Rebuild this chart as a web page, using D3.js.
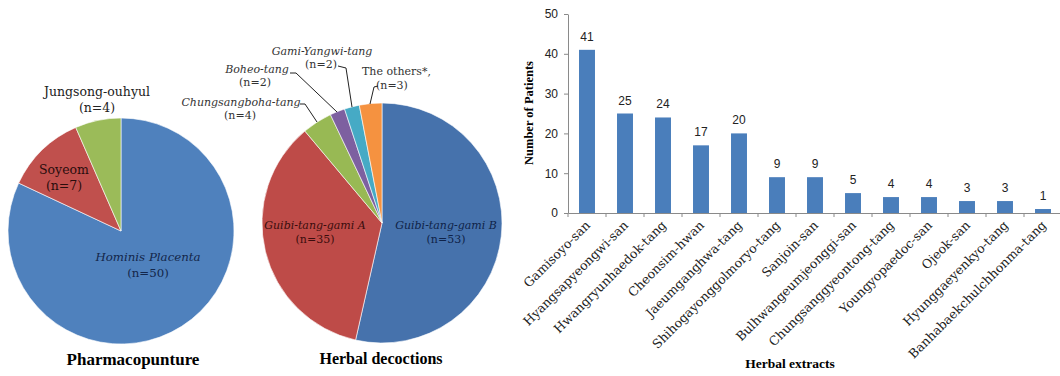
<!DOCTYPE html>
<html>
<head>
<meta charset="utf-8">
<script src="https://cdn.jsdelivr.net/npm/d3@7"></script>
<style>
  body { margin: 0; background: #fff; }
  svg { display: block; }
  .serif { font-family: "DejaVu Serif", serif; }
  .title { font-family: "Liberation Serif", serif; font-weight: bold; }
  .axis path, .axis line { stroke: #8a8a8a; }
  .axis text { font-family: "Liberation Sans", Arial, sans-serif; font-size: 12px; fill: #222; }
</style>
</head>
<body>
<svg id="chart" width="1060" height="376"></svg>
<script>
// Pharmacopunture pie
const pharmaNames  = ['Hominis Placenta', 'Soyeom', 'Jungsong-ouhyul'];
const pharmaCounts = [50, 7, 4];
const pharmaColours = ['#4F81BD', '#C0504D', '#9BBB59'];

// Herbal decoctions pie
const decoNames  = ['Guibi-tang-gami B', 'Guibi-tang-gami A', 'Chungsangboha-tang', 'Boheo-tang', 'Gami-Yangwi-tang', 'The others*,'];
const decoCounts = [53, 35, 4, 2, 2, 3];
const decoColours = ['#4672AC', '#BE4B48', '#98B954', '#7D60A0', '#46AAC5', '#F59240'];

// Herbal extracts bars
const extractNames = ['Gamisoyo-san', 'Hyangsapyeongwi-san', 'Hwangryunhaedok-tang', 'Cheonsim-hwan',
  'Jaeumganghwa-tang', 'Shihogayonggolmoryo-tang', 'Sanjoin-san', 'Bulhwangeumjeonggi-san',
  'Chungsanggyeontong-tang', 'Youngyopaedoc-san', 'Ojeok-san', 'Hyunggaeyenkyo-tang', 'Banhabaekchulchhonma-tang'];
const extractCounts = [41, 25, 24, 17, 20, 9, 9, 5, 4, 4, 3, 3, 1];
const yTicks = [0, 10, 20, 30, 40, 50];

const svg = d3.select('#chart');

function drawPie(cx, cy, r, counts, colours) {
    const pie = d3.pie().sort(null).value(d => d);
    const arc = d3.arc().innerRadius(0).outerRadius(r);
    const g = svg.append('g').attr('transform', `translate(${cx},${cy})`);
    g.selectAll('path').data(pie(counts)).join('path')
        .attr('d', arc)
        .attr('fill', (d, i) => colours[i])
        .attr('stroke', '#fff')
        .attr('stroke-width', 0.6);
    return {g, pie, arc};
}

// two-line label helper
function label(x, y, name, n, opts = {}) {
    const t = svg.append('text')
        .attr('class', 'serif')
        .attr('text-anchor', 'middle')
        .attr('font-size', opts.size || 12)
        .attr('fill', opts.fill || '#222');
    t.append('tspan').attr('x', x).attr('y', y)
        .attr('font-style', opts.italic ? 'italic' : null)
        .text(name);
    t.append('tspan').attr('x', x + (opts.nShift || 0)).attr('y', y + (opts.gap || 16)).text(`(n=${n})`);
}

// --- Left pie ---
drawPie(121, 231, 113, pharmaCounts, pharmaColours);
label(97, 96, pharmaNames[2], pharmaCounts[2], {size: 12.5});
label(64, 174, pharmaNames[1], pharmaCounts[1], {size: 12.5, fill: '#2a0d0d'});
label(148, 261, pharmaNames[0], pharmaCounts[0], {size: 11.8, italic: true, fill: '#13264a', nShift: 0});

svg.append('text').attr('class', 'title')
    .attr('x', 133).attr('y', 365)
    .attr('text-anchor', 'middle').attr('font-size', 17)
    .text('Pharmacopunture');

// --- Middle pie ---
drawPie(382, 223, 120, decoCounts, decoColours);
label(315, 229, decoNames[1], decoCounts[1], {size: 11, italic: true, fill: '#3a0d0d', gap: 14});
label(446, 229, decoNames[0], decoCounts[0], {size: 11, italic: true, fill: '#0f2348', gap: 14});

// outside labels with leader lines
const outside = [
    {name: decoNames[4], n: decoCounts[4], x: 322, y: 55, nx: 321, line: [[338, 66], [346, 68], [352, 107]]},
    {name: decoNames[3], n: decoCounts[3], x: 257, y: 73, nx: 255, line: [[290, 73], [296, 73], [337, 112]]},
    {name: decoNames[2], n: decoCounts[2], x: 241, y: 106, nx: 240, line: [[300, 104], [305, 104], [317, 122]]}
];
outside.forEach(o => {
    const t = svg.append('text').attr('class', 'serif').attr('font-size', 11).attr('fill', '#333');
    t.append('tspan').attr('x', o.x).attr('y', o.y).attr('text-anchor', 'middle')
        .attr('font-style', 'italic').text(o.name);
    t.append('tspan').attr('x', o.nx).attr('y', o.y + 13).attr('text-anchor', 'middle').text(`(n=${o.n})`);
    svg.append('path').attr('d', d3.line()(o.line))
        .attr('fill', 'none').attr('stroke', '#222').attr('stroke-width', 1);
});
const oth = svg.append('text').attr('class', 'serif').attr('font-size', 11).attr('fill', '#333');
oth.append('tspan').attr('x', 362).attr('y', 75).text(decoNames[5]);
oth.append('tspan').attr('x', 376).attr('y', 89).text(`(n=${decoCounts[5]})`);
svg.append('path').attr('d', d3.line()([[378, 86], [374, 87], [370, 104]]))
    .attr('fill', 'none').attr('stroke', '#222').attr('stroke-width', 1);

svg.append('text').attr('class', 'title')
    .attr('x', 381).attr('y', 364)
    .attr('text-anchor', 'middle').attr('font-size', 16)
    .text('Herbal decoctions');

// --- Bar chart ---
const margin = {left: 568, top: 14};
const innerW = 494, innerH = 199;
const chart = svg.append('g').attr('transform', `translate(${margin.left},${margin.top})`);

const xScale = d3.scaleBand().domain(extractNames).range([0, innerW]).paddingInner(0.58).paddingOuter(0.29);
const yScale = d3.scaleLinear().domain([0, 50]).range([innerH, 0]);

const yAxisG = chart.append('g').attr('class', 'axis')
    .call(d3.axisLeft(yScale).tickValues(yTicks).tickSize(4).tickSizeOuter(0).tickPadding(6));

const xAxisG = chart.append('g').attr('class', 'axis').attr('transform', `translate(0,${innerH})`)
    .call(d3.axisBottom(xScale).tickSize(0).tickFormat(''));
// ticks at band boundaries
const step = xScale.step();
xAxisG.selectAll('line.sep').data(d3.range(extractNames.length + 1)).join('line')
    .attr('class', 'sep')
    .attr('x1', i => i * step).attr('x2', i => i * step)
    .attr('y1', 0).attr('y2', 4);

chart.selectAll('rect.bar').data(extractCounts).join('rect')
    .attr('class', 'bar')
    .attr('x', (d, i) => xScale(extractNames[i]))
    .attr('width', xScale.bandwidth())
    .attr('y', d => yScale(d))
    .attr('height', d => innerH - yScale(d))
    .attr('fill', '#4A7EBB');

chart.selectAll('text.val').data(extractCounts).join('text')
    .attr('class', 'val')
    .attr('x', (d, i) => xScale(extractNames[i]) + xScale.bandwidth() / 2)
    .attr('y', d => yScale(d) - 9)
    .attr('text-anchor', 'middle')
    .attr('font-family', '"Liberation Sans", Arial, sans-serif')
    .attr('font-size', 12)
    .attr('fill', '#222')
    .text(d => d);

chart.selectAll('text.cat').data(extractNames).join('text')
    .attr('class', 'cat serif')
    .attr('text-anchor', 'end')
    .attr('font-size', 12.5)
    .attr('fill', '#222')
    .attr('transform', d => `translate(${xScale(d) + xScale.bandwidth() / 2 + 4},${innerH + 13}) rotate(-45)`)
    .text(d => d);

svg.append('text').attr('class', 'title')
    .attr('transform', `translate(533,113) rotate(-90)`)
    .attr('text-anchor', 'middle').attr('font-size', 12.5)
    .text('Number of Patients');

svg.append('text').attr('class', 'title')
    .attr('x', 790).attr('y', 368)
    .attr('text-anchor', 'middle').attr('font-size', 13.5)
    .text('Herbal extracts');
</script>
</body>
</html>
